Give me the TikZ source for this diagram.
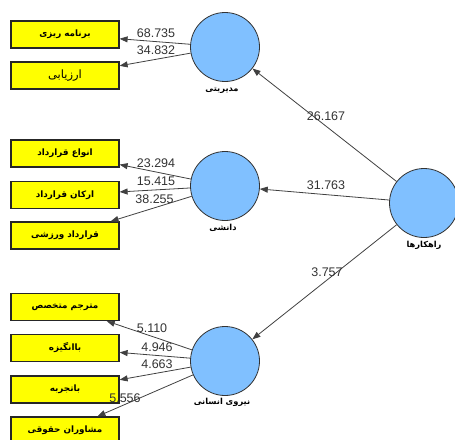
\documentclass[tikz,border=0pt]{standalone}
\usepackage{fontspec}
\setmainfont{Liberation Sans}
\newfontfamily\arabicfont[Script=Arabic]{DejaVu Sans}
\TeXXeTstate=1
\usetikzlibrary{arrows.meta}
\definecolor{lvblue}{RGB}{128,192,255}
\definecolor{boxyellow}{RGB}{255,255,0}
\newcommand{\rtl}[1]{\beginR #1\endR\hspace{10pt}}
\tikzset{
  latent/.style={circle, draw=black!80, line width=0.8pt, fill=lvblue, minimum size=69pt, inner sep=0pt},
  indic/.style={rectangle, draw=black!85, line width=1.2pt, fill=boxyellow, minimum width=108pt, minimum height=27pt, inner sep=0pt, font=\arabicfont\fontsize{8.8}{10}\selectfont\bfseries},
  conn/.style={draw=black!75, line width=0.8pt, -{Triangle[length=8pt,width=6pt]}},
  num/.style={font=\fontsize{12.5}{14}\selectfont, text=black!80, inner sep=0pt},
  clab/.style={font=\arabicfont\fontsize{8.3}{9}\selectfont\bfseries, inner sep=0pt}
}
\begin{document}
\begin{tikzpicture}[x=1pt,y=-1pt]
\useasboundingbox (0,0) rectangle (455,439);
% latent variables
\node[latent] (mod) at (225,47) {};
\node[latent] (dan) at (225,186) {};
\node[latent] (niru) at (225,361) {};
\node[latent] (rah) at (424,203) {};
\node[clab] (lmod) at (222,90) {\beginR مدیریتی\endR};
\node[clab] (ldan) at (223,228) {\beginR دانشی\endR};
\node[clab] (lniru) at (222,402) {\beginR نیروی انسانی\endR};
\node[clab] (lrah) at (424,245) {\beginR راهکارها\endR};
% indicators
\node[indic] (b1) at (65,34.5) {\rtl{برنامه ریزی}};
\node[indic, font=\arabicfont\fontsize{11.5}{13}\selectfont] (b2) at (65,75.5) {\rtl{ارزیابی}};
\node[indic] (b3) at (65,153.5) {\rtl{انواع قرارداد}};
\node[indic] (b4) at (65,195) {\rtl{ارکان قرارداد}};
\node[indic] (b5) at (65,235.5) {\rtl{قرارداد ورزشی}};
\node[indic] (b6) at (65,307) {\rtl{مترجم متخصص}};
\node[indic] (b7) at (65,348) {\rtl{باانگیزه}};
\node[indic] (b8) at (65,389.5) {\rtl{باتجربه}};
\node[indic] (b9) at (65,430.5) {\rtl{مشاوران حقوقی}};
% connectors
\draw[conn] (mod) -- (b1);
\draw[conn] (mod) -- (b2);
\draw[conn] (dan) -- (b3);
\draw[conn] (dan) -- (b4);
\draw[conn] (dan) -- (b5);
\draw[conn] (niru) -- (b6);
\draw[conn] (niru) -- (b7);
\draw[conn] (niru) -- (b8);
\draw[conn] (niru) -- (b9);
\draw[conn] (rah) -- (mod);
\draw[conn] (rah) -- (dan);
\draw[conn] (rah) -- (niru);
% numbers
\node[num] (n1) at (156,33) {68.735};
\node[num] (n2) at (156,50) {34.832};
\node[num] (n3) at (156,163) {23.294};
\node[num] (n4) at (156,181) {15.415};
\node[num] (n5) at (154.5,199) {38.255};
\node[num] (n6) at (152,328) {5.110};
\node[num] (n7) at (157,347) {4.946};
\node[num] (n8) at (157,364) {4.663};
\node[num] (n9) at (125,398) {5.556};
\node[num] (n10) at (326,116) {26.167};
\node[num] (n11) at (326,185) {31.763};
\node[num] (n12) at (327,272) {3.757};
\end{tikzpicture}
\end{document}
